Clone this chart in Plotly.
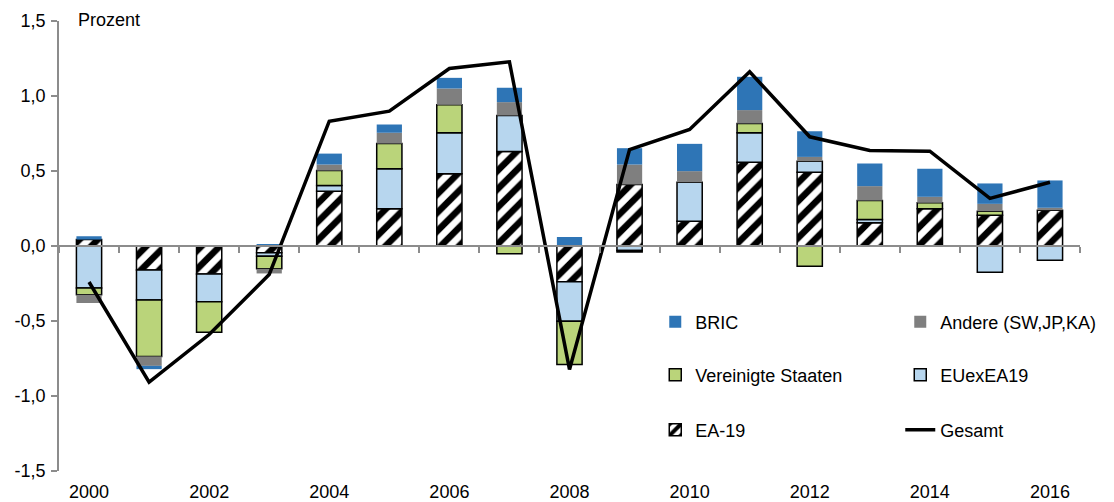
import plotly.graph_objects as go

years = list(range(2000, 2017))
ea19 = [0.043, -0.16, -0.186, -0.045, 0.365, 0.248, 0.481, 0.63, -0.239, 0.41, 0.165, 0.559, 0.492, 0.155, 0.248, 0.205, 0.239]
euexea19 = [-0.28, -0.2, -0.186, -0.023, 0.038, 0.267, 0.274, 0.24, -0.262, -0.03, 0.26, 0.196, 0.073, 0.022, 0.0, -0.175, -0.095]
usa = [-0.045, -0.376, -0.203, -0.084, 0.1, 0.168, 0.186, -0.052, -0.289, -0.01, 0.0, 0.062, -0.135, 0.126, 0.04, 0.027, 0.0]
andere = [-0.055, -0.063, 0.0, -0.031, 0.04, 0.072, 0.109, 0.089, 0.0, 0.133, 0.074, 0.089, 0.029, 0.096, 0.04, 0.049, 0.016]
bric = [0.022, -0.022, 0.005, 0.008, 0.073, 0.055, 0.071, 0.096, 0.06, 0.109, 0.182, 0.222, 0.171, 0.151, 0.187, 0.136, 0.182]
gesamt = [-0.24, -0.908, -0.59, -0.19, 0.832, 0.899, 1.183, 1.228, -0.823, 0.643, 0.777, 1.161, 0.728, 0.637, 0.632, 0.317, 0.425]

xtickvals = list(range(2000, 2017, 2))
xlabels = [str(y) for y in xtickvals]
ytickvals = [-1.5, -1.0, -0.5, 0.0, 0.5, 1.0, 1.5]
ylabels = ["-1,5", "-1,0", "-0,5", "0,0", "0,5", "1,0", "1,5"]

FONT = "Arial, Liberation Sans, sans-serif"
GRAY = "#8c8c8c"
FS = 18


def nz(vals):
    return [v if v != 0 else None for v in vals]


fig = go.Figure()
fig.add_trace(go.Bar(
    x=years, y=nz(ea19), name="EA-19", legend="legend3", legendrank=5,
    marker=dict(color="white",
                pattern=dict(shape="/", fgcolor="#000000", bgcolor="white", size=13,
                             solidity=0.5, fgopacity=1),
                line=dict(color="black", width=1.5)),
))
fig.add_trace(go.Bar(
    x=years, y=nz(euexea19), name="EUexEA19", legend="legend2", legendrank=4,
    marker=dict(color="#B7D6EE", line=dict(color="black", width=1.5)),
))
fig.add_trace(go.Bar(
    x=years, y=nz(usa), name="Vereinigte Staaten", legend="legend2", legendrank=3,
    marker=dict(color="#BAD47A", line=dict(color="black", width=1.5)),
))
fig.add_trace(go.Bar(
    x=years, y=nz(andere), name="Andere (SW,JP,KA)", legend="legend", legendrank=2,
    marker=dict(color="#7F7F7F", line=dict(width=0)),
))
fig.add_trace(go.Bar(
    x=years, y=nz(bric), name="BRIC", legend="legend", legendrank=1,
    marker=dict(color="#2E75B6", line=dict(width=0)),
))
fig.add_trace(go.Scatter(
    x=years, y=gesamt, name="Gesamt", mode="lines", legend="legend3", legendrank=6,
    xaxis="x2", line=dict(color="black", width=3.5),
))

leg_common = dict(orientation="h", xanchor="left", yanchor="middle",
                  font=dict(family=FONT, size=FS, color="black"),
                  bgcolor="rgba(0,0,0,0)", entrywidth=200, traceorder="normal")

fig.update_layout(
    width=1114, height=502,
    margin=dict(l=51, r=42, t=13, b=39, autoexpand=False),
    paper_bgcolor="white", plot_bgcolor="white",
    barmode="relative", bargap=0.58,
    font=dict(family=FONT, size=FS, color="black"),
    showlegend=True,
    legend=dict(x=0.584, y=0.331, **leg_common),
    legend2=dict(x=0.584, y=0.213, **leg_common),
    legend3=dict(x=0.584, y=0.091, **leg_common),
    xaxis=dict(range=[1999.5, 2016.5], tickmode="array",
               tickvals=xtickvals, ticktext=xlabels,
               showline=False, ticks="", showgrid=False, zeroline=False,
               ticklabelstandoff=8,
               tickfont=dict(family=FONT, size=FS, color="black")),
    xaxis2=dict(range=[1999.5, 2016.5], overlaying="x", anchor="free", position=0.5,
                side="bottom", showline=True, linecolor=GRAY, linewidth=1.5,
                ticks="outside", ticklen=6, tickcolor=GRAY, tickwidth=1.5,
                tickmode="array", tickvals=[1999.5 + k for k in range(18)],
                showticklabels=False, showgrid=False, zeroline=False),
    yaxis=dict(range=[-1.5, 1.5], tickmode="array", tickvals=ytickvals, ticktext=ylabels,
               showline=True, linecolor=GRAY, linewidth=1.5,
               ticks="outside", ticklen=6, tickcolor=GRAY, tickwidth=1.5,
               showgrid=False, zeroline=False, ticklabelstandoff=2,
               tickfont=dict(family=FONT, size=FS, color="black")),
    annotations=[dict(text="Prozent", xref="paper", yref="paper", x=0.017, y=1.002,
                      xanchor="left", yanchor="middle", showarrow=False,
                      font=dict(family=FONT, size=FS, color="black"))],
)

fig.write_html("out.html")
